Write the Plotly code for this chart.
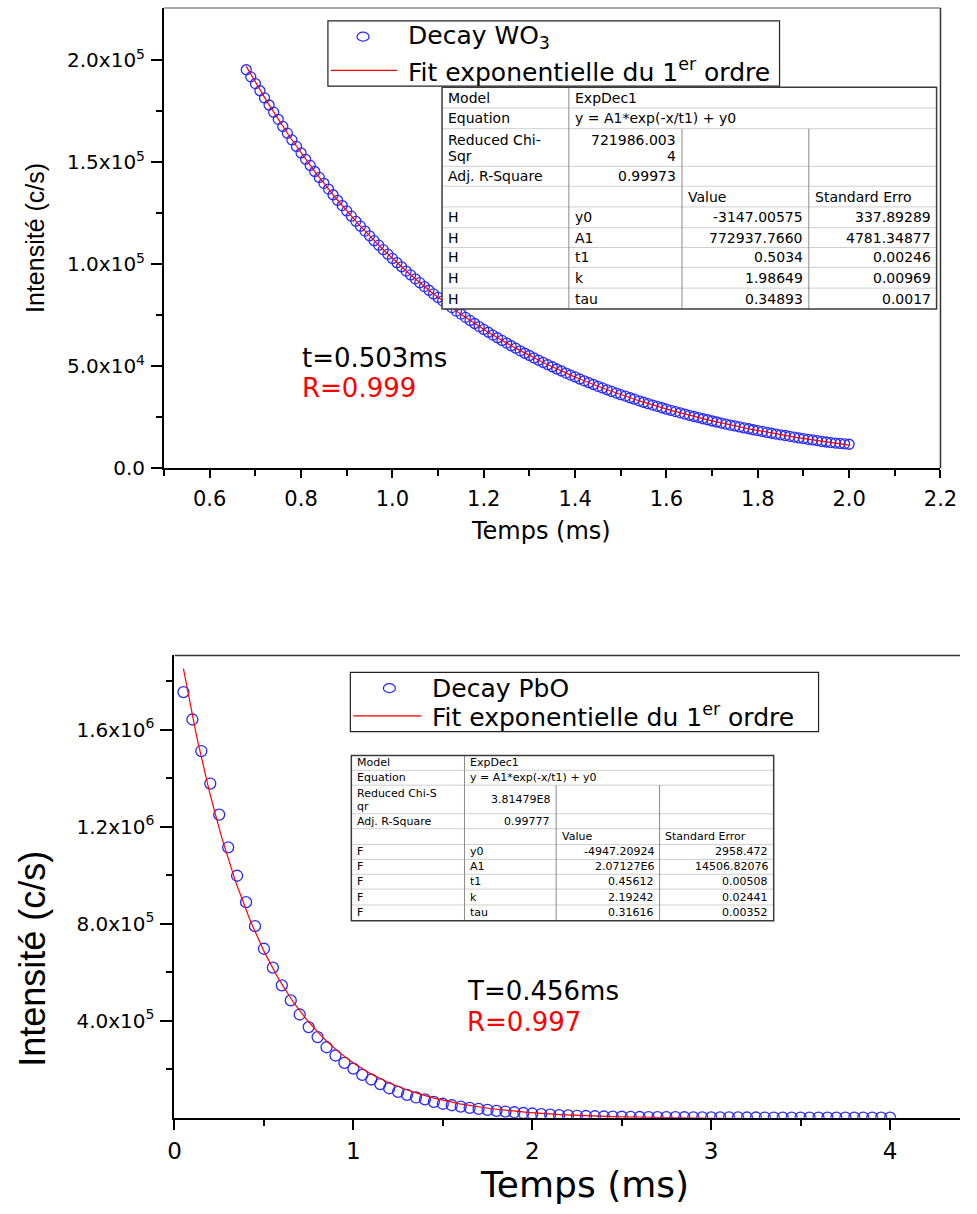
import numpy as np
import plotly.graph_objects as go

W, H = 977, 1214
SANS = "DejaVu Sans, Liberation Sans, Arial, sans-serif"
ARIAL = "Liberation Sans, Arial, sans-serif"
BLUE = "#2a2aff"
RED = "#ff0000"

# ---------------- WO3 decay (time in ms, intensity in 10^3 c/s) ----------------
wo3_time = [
    0.68, 0.69, 0.70, 0.71, 0.72, 0.73, 0.74, 0.75, 0.76, 0.77,
    0.78, 0.79, 0.80, 0.81, 0.82, 0.83, 0.84, 0.85, 0.86, 0.87,
    0.88, 0.89, 0.90, 0.91, 0.92, 0.93, 0.94, 0.95, 0.96, 0.97,
    0.98, 0.99, 1.00, 1.01, 1.02, 1.03, 1.04, 1.05, 1.06, 1.07,
    1.08, 1.09, 1.10, 1.11, 1.12, 1.13, 1.14, 1.15, 1.16, 1.17,
    1.18, 1.19, 1.20, 1.21, 1.22, 1.23, 1.24, 1.25, 1.26, 1.27,
    1.28, 1.29, 1.30, 1.31, 1.32, 1.33, 1.34, 1.35, 1.36, 1.37,
    1.38, 1.39, 1.40, 1.41, 1.42, 1.43, 1.44, 1.45, 1.46, 1.47,
    1.48, 1.49, 1.50, 1.51, 1.52, 1.53, 1.54, 1.55, 1.56, 1.57,
    1.58, 1.59, 1.60, 1.61, 1.62, 1.63, 1.64, 1.65, 1.66, 1.67,
    1.68, 1.69, 1.70, 1.71, 1.72, 1.73, 1.74, 1.75, 1.76, 1.77,
    1.78, 1.79, 1.80, 1.81, 1.82, 1.83, 1.84, 1.85, 1.86, 1.87,
    1.88, 1.89, 1.90, 1.91, 1.92, 1.93, 1.94, 1.95, 1.96, 1.97,
    1.98, 1.99, 2.00,
]
wo3_kcps = [
    195.4, 191.9, 188.6, 185.1, 181.6, 178.1, 174.6, 171.1, 167.6, 164.3,
    161.0, 157.8, 154.6, 151.5, 148.5, 145.5, 142.6, 139.7, 136.9, 134.1,
    131.4, 128.8, 126.2, 123.6, 121.1, 118.7, 116.3, 114.0, 111.6, 109.4,
    107.2, 105.0, 102.9, 100.8, 98.8, 96.7, 94.8, 92.9, 91.0, 89.1,
    87.3, 85.5, 83.8, 82.1, 80.4, 78.8, 77.1, 75.6, 74.0, 72.5,
    71.0, 69.5, 68.1, 66.7, 65.3, 64.0, 62.7, 61.4, 60.1, 58.9,
    57.6, 56.4, 55.3, 54.1, 53.0, 51.9, 50.8, 49.8, 48.7, 47.7,
    46.7, 45.7, 44.8, 43.8, 42.9, 42.0, 41.1, 40.2, 39.4, 38.5,
    37.7, 36.9, 36.1, 35.4, 34.6, 33.9, 33.1, 32.4, 31.7, 31.0,
    30.4, 29.7, 29.0, 28.4, 27.8, 27.2, 26.6, 26.0, 25.4, 24.9,
    24.3, 23.8, 23.2, 22.7, 22.2, 21.7, 21.2, 20.8, 20.3, 19.8,
    19.4, 18.9, 18.5, 18.1, 17.6, 17.2, 16.8, 16.4, 16.1, 15.7,
    15.3, 14.9, 14.6, 14.2, 13.9, 13.6, 13.2, 12.9, 12.6, 12.4,
    12.2, 12.0, 11.8,
]

# ---------------- PbO decay (time in ms, intensity in 10^3 c/s) ----------------
pbo_time = [
    0.05, 0.10, 0.15, 0.20, 0.25, 0.30, 0.35, 0.40, 0.45, 0.50,
    0.55, 0.60, 0.65, 0.70, 0.75, 0.80, 0.85, 0.90, 0.95, 1.00,
    1.05, 1.10, 1.15, 1.20, 1.25, 1.30, 1.35, 1.40, 1.45, 1.50,
    1.55, 1.60, 1.65, 1.70, 1.75, 1.80, 1.85, 1.90, 1.95, 2.00,
    2.05, 2.10, 2.15, 2.20, 2.25, 2.30, 2.35, 2.40, 2.45, 2.50,
    2.55, 2.60, 2.65, 2.70, 2.75, 2.80, 2.85, 2.90, 2.95, 3.00,
    3.05, 3.10, 3.15, 3.20, 3.25, 3.30, 3.35, 3.40, 3.45, 3.50,
    3.55, 3.60, 3.65, 3.70, 3.75, 3.80, 3.85, 3.90, 3.95, 4.00,
]
pbo_kcps = [
    1755, 1642, 1512, 1378, 1250, 1115, 998, 889, 790, 697,
    619, 546, 484, 426, 374, 333, 291, 257, 227, 203,
    177, 158, 139, 122, 107, 95, 84, 76, 66, 58,
    52, 46, 41, 37, 33, 29, 26, 23, 20, 18,
    15, 13, 11, 10, 8.5, 7.5, 6.5, 5.5, 5.0, 4.5,
    4.0, 3.5, 3.2, 3.0, 2.8, 2.6, 2.4, 2.2, 2.0, 1.9,
    1.8, 1.7, 1.6, 1.5, 1.4, 1.3, 1.2, 1.1, 1.0, 1.0,
    0.9, 0.9, 0.8, 0.8, 0.7, 0.7, 0.6, 0.6, 0.5, 0.5,
]

# ExpDec1 fit results: y = A1*exp(-x/t1) + y0
WO3_A1, WO3_T1, WO3_Y0 = 772937.7660, 0.5034, -3147.00575
PBO_A1, PBO_T1, PBO_Y0 = 2.07127e6, 0.45612, -4947.20924

wo3_table = [
    ["Model", "ExpDec1", None, None],
    ["Equation", "y = A1*exp(-x/t1) + y0", None, None],
    ["Reduced Chi-\nSqr", "721986.003\n4", "", ""],
    ["Adj. R-Square", "0.99973", "", ""],
    ["", "", "Value", "Standard Erro"],
    ["H", "y0", "-3147.00575", "337.89289"],
    ["H", "A1", "772937.7660", "4781.34877"],
    ["H", "t1", "0.5034", "0.00246"],
    ["H", "k", "1.98649", "0.00969"],
    ["H", "tau", "0.34893", "0.0017"],
]
pbo_table = [
    ["Model", "ExpDec1", None, None],
    ["Equation", "y = A1*exp(-x/t1) + y0", None, None],
    ["Reduced Chi-S\nqr", "3.81479E8", "", ""],
    ["Adj. R-Square", "0.99777", "", ""],
    ["", "", "Value", "Standard Error"],
    ["F", "y0", "-4947.20924", "2958.472"],
    ["F", "A1", "2.07127E6", "14506.82076"],
    ["F", "t1", "0.45612", "0.00508"],
    ["F", "k", "2.19242", "0.02441"],
    ["F", "tau", "0.31616", "0.00352"],
]

wo3_x_ticks = [0.6, 0.8, 1.0, 1.2, 1.4, 1.6, 1.8, 2.0, 2.2]
wo3_x_labels = ["0.6", "0.8", "1.0", "1.2", "1.4", "1.6", "1.8", "2.0", "2.2"]
wo3_y_ticks = [0, 5e4, 1e5, 1.5e5, 2e5]
wo3_y_labels = ["0.0", "5.0x10<sup>4</sup>", "1.0x10<sup>5</sup>",
                "1.5x10<sup>5</sup>", "2.0x10<sup>5</sup>"]
pbo_x_ticks = [0, 1, 2, 3, 4]
pbo_x_labels = ["0", "1", "2", "3", "4"]
pbo_y_ticks = [4e5, 8e5, 1.2e6, 1.6e6]
pbo_y_labels = ["4.0x10<sup>5</sup>", "8.0x10<sup>5</sup>",
                "1.2x10<sup>6</sup>", "1.6x10<sup>6</sup>"]

WO3_NAME = "Decay WO<sub>3</sub>"
PBO_NAME = "Decay PbO"
FIT_NAME = "Fit exponentielle du 1<sup>er</sup> ordre"


def px(x):
    return x / W


def py(y):
    return 1 - y / H


shapes = []
annotations = []


def hline(x0, x1, y, color, width):
    shapes.append(dict(type="line", xref="paper", yref="paper",
                       x0=px(x0), x1=px(x1), y0=py(y), y1=py(y),
                       line=dict(color=color, width=width), layer="above"))


def vline(x, y0, y1, color, width):
    shapes.append(dict(type="line", xref="paper", yref="paper",
                       x0=px(x), x1=px(x), y0=py(y0), y1=py(y1),
                       line=dict(color=color, width=width), layer="above"))


def box(x0, x1, y0, y1, color, width, fill="white"):
    shapes.append(dict(type="rect", xref="paper", yref="paper",
                       x0=px(x0), x1=px(x1), y0=py(y1), y1=py(y0),
                       fillcolor=fill, line=dict(color=color, width=width),
                       layer="above"))


def text_at(x, y, s, size, color="black", xanchor="left", yanchor="middle",
            family=SANS, angle=0):
    annotations.append(dict(x=px(x), y=py(y), xref="paper", yref="paper", text=s,
                            showarrow=False, xanchor=xanchor, yanchor=yanchor,
                            textangle=angle, borderpad=0,
                            font=dict(family=family, size=size, color=color)))


def is_number(s):
    return len(s) > 0 and (s[0].isdigit() or (s[0] == "-" and s[1:2].isdigit()))


def draw_table(cells, cols, rows, size, line_offsets):
    x0, x1, y0, y1 = cols[0], cols[-1], rows[0], rows[-1]
    box(x0, x1, y0, y1, "rgba(0,0,0,0)", 0)
    for y in rows[1:-1]:
        hline(x0, x1, y, "#cfcfcf", 1)
    vline(cols[1], y0, y1, "#8a8a8a", 1)
    for c in cols[2:-1]:
        vline(c, rows[2], y1, "#8a8a8a", 1)
    box(x0, x1, y0, y1, "#3a3a3a", 1.5, fill="rgba(0,0,0,0)")
    for r, row in enumerate(cells):
        top, bottom = rows[r], rows[r + 1]
        for c, s in enumerate(row):
            if not s:
                continue
            right = is_number(s)
            xpos = cols[c + 1] - 5 if right else cols[c] + 5
            anchor = "right" if right else "left"
            lines = s.split("\n")
            if len(lines) == 1:
                text_at(xpos, (top + bottom) / 2, s, size, xanchor=anchor)
            else:
                for part, off in zip(lines, line_offsets):
                    text_at(xpos, top + off, part, size, xanchor=anchor)


def draw_key(x0, x1, y0, y1, sym_x, line_x0, line_x1, text_x, row1, row2,
             label1, label2, size):
    box(x0, x1, y0, y1, "#222222", 1.2)
    shapes.append(dict(type="circle", xref="paper", yref="paper",
                       xsizemode="pixel", ysizemode="pixel",
                       xanchor=px(sym_x), yanchor=py(row1),
                       x0=-6, x1=6, y0=-4.5, y1=4.5,
                       line=dict(color=BLUE, width=1.3), layer="above"))
    hline(line_x0, line_x1, row2, RED, 1.2)
    text_at(text_x, row1, label1, size)
    text_at(text_x, row2, label2, size)


fig = go.Figure()

# WO3 panel
fig.add_trace(go.Scatter(
    x=wo3_time, y=[v * 1000 for v in wo3_kcps], mode="markers", name=WO3_NAME,
    marker=dict(symbol="circle-open", size=10, color=BLUE, line=dict(width=1.3)),
    xaxis="x", yaxis="y"))
fit_x1 = np.linspace(wo3_time[0], wo3_time[-1], 300)
fig.add_trace(go.Scatter(
    x=fit_x1, y=WO3_A1 * np.exp(-fit_x1 / WO3_T1) + WO3_Y0, mode="lines",
    name=FIT_NAME, line=dict(color=RED, width=1.2), xaxis="x", yaxis="y"))

# PbO panel
fig.add_trace(go.Scatter(
    x=pbo_time, y=[v * 1000 for v in pbo_kcps], mode="markers", name=PBO_NAME,
    marker=dict(symbol="circle-open", size=11, color=BLUE, line=dict(width=1.3)),
    xaxis="x2", yaxis="y2"))
fit_x2 = np.linspace(pbo_time[0], pbo_time[-1], 400)
fig.add_trace(go.Scatter(
    x=fit_x2, y=PBO_A1 * np.exp(-fit_x2 / PBO_T1) + PBO_Y0, mode="lines",
    name=FIT_NAME, line=dict(color=RED, width=1.2), xaxis="x2", yaxis="y2"))

axis_common = dict(showgrid=False, zeroline=False, showline=True, linecolor="black",
                   linewidth=2, ticks="outside", tickcolor="black", tickwidth=2,
                   tickmode="array", ticklabelstandoff=2)

xaxis = dict(axis_common, domain=[px(161), px(957)], range=[0.5, 2.2],
             tickvals=wo3_x_ticks, ticktext=wo3_x_labels, ticklen=8,
             tickfont=dict(family=SANS, size=21, color="black"),
             minor=dict(tickvals=[0.5, 0.7, 0.9, 1.1, 1.3, 1.5, 1.7, 1.9, 2.1],
                        ticks="outside", ticklen=6, tickwidth=2, tickcolor="black"),
             anchor="y")
yaxis = dict(axis_common, domain=[py(473), py(8)], range=[0, 2.257e5],
             tickvals=wo3_y_ticks, ticktext=wo3_y_labels, ticklen=11,
             tickfont=dict(family=SANS, size=20, color="black"),
             minor=dict(tickvals=[2.5e4, 7.5e4, 1.25e5, 1.75e5],
                        ticks="outside", ticklen=6, tickwidth=2, tickcolor="black"),
             anchor="x")
xaxis2 = dict(axis_common, domain=[px(171.7), 1.0], range=[0, 4.391],
              tickvals=pbo_x_ticks, ticktext=pbo_x_labels, ticklen=10,
              tickfont=dict(family=SANS, size=23, color="black"),
              minor=dict(tickvals=[0.5, 1.5, 2.5, 3.5],
                         ticks="outside", ticklen=6, tickwidth=2, tickcolor="black"),
              anchor="y2")
yaxis2 = dict(axis_common, domain=[py(1129), py(662)], range=[0, 1.906e6],
              tickvals=pbo_y_ticks, ticktext=pbo_y_labels, ticklen=12,
              tickfont=dict(family=SANS, size=20, color="black"),
              minor=dict(tickvals=[2e5, 6e5, 1.0e6, 1.4e6, 1.8e6],
                         ticks="outside", ticklen=6, tickwidth=2, tickcolor="black"),
              anchor="x2")

# frame edges
hline(161, 957, 8, "#8c8c8c", 1.5)
vline(957, 8, 473, "#333333", 1.5)
hline(172, 977, 662, "#333333", 1.5)

# axis titles
text_at(28, 240, "Intensité (c/s)", 25, family=ARIAL, xanchor="center", angle=-90)
text_at(547, 536, "Temps (ms)", 24, xanchor="center")
text_at(26, 968, "Intensité (c/s)", 36, family=ARIAL, xanchor="center", angle=-90)
text_at(592, 1196, "Temps (ms)", 36, xanchor="center")

# lifetime / correlation labels
text_at(301, 362, "t=0.503ms", 26)
text_at(301, 392, "R=0.999", 26, color=RED)
text_at(471, 1001, "T=0.456ms", 26)
text_at(471, 1032, "R=0.997", 26, color=RED)

# legend keys
draw_key(329, 792, 21, 87, 365, 332, 400, 410, 37, 71, WO3_NAME, FIT_NAME, 25)
draw_key(352, 832, 679, 739, 392, 355, 425, 435, 695, 723, PBO_NAME, FIT_NAME, 25)

# fit report tables
draw_table(wo3_table, [446, 576, 692, 822, 953],
           [88, 109, 130, 168, 188, 209, 230, 250, 270, 291, 312], 14, [11, 28])
draw_table(pbo_table, [353, 469, 563, 669, 786],
           [763, 778, 793, 822, 837, 853, 868, 883, 898, 914, 930], 11, [8, 22])

fig.update_layout(
    width=W, height=H, autosize=False,
    margin=dict(l=0, r=0, t=0, b=0),
    paper_bgcolor="white", plot_bgcolor="white",
    xaxis=xaxis, yaxis=yaxis, xaxis2=xaxis2, yaxis2=yaxis2,
    shapes=shapes, annotations=annotations,
    showlegend=False,
)

fig.write_html("out.html")
